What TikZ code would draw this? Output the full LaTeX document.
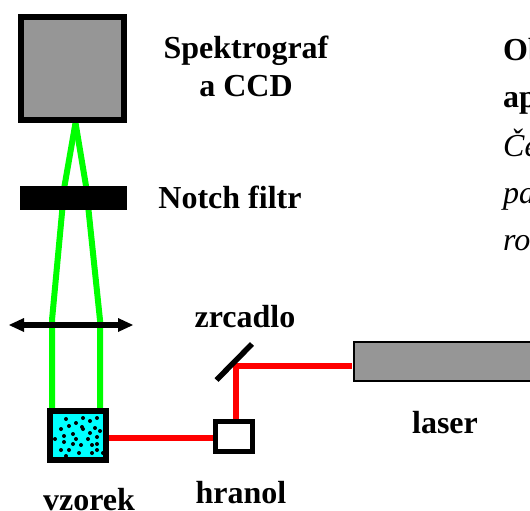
\documentclass[tikz,border=0pt]{standalone}
\usepackage{fontspec}
\setmainfont{Liberation Serif}
\begin{document}
\begin{tikzpicture}[x=1pt,y=-1pt,
  lbl/.style={font=\fontsize{32}{32}\selectfont\bfseries,anchor=base,inner sep=0pt},
  side/.style={font=\fontsize{32}{32}\selectfont\bfseries,anchor=base west,inner sep=0pt},
  sideit/.style={font=\fontsize{32}{32}\selectfont\itshape,anchor=base west,inner sep=0pt},
  green beam/.style={draw={rgb,255:red,0;green,255;blue,0},line width=6pt,line join=round},
  red beam/.style={draw=red,line width=6pt,line join=miter},
  part/.style={draw=black,line width=6pt,anchor=center,inner sep=0pt,minimum width=#1},
  dot/.style={circle,fill=black,inner sep=0pt,minimum size=4pt}]
\useasboundingbox (0,0) rectangle (530,511);
\fill[white] (0,0) rectangle (530,511);
% beams
\draw[green beam] (52,408) -- (52,320) -- (64.5,186) -- (75.5,123);
\draw[green beam] (100,408) -- (100,320) -- (86,186) -- (75.5,123);
\draw[red beam] (109,438) -- (213,438);
\draw[red beam] (236,419) -- (236,365.5) -- (352,365.5);
% spectrograph
\node[part=103pt,minimum height=103pt,fill={rgb,255:red,150;green,150;blue,150}] (spec) at (72.5,68.5) {};
% notch filter
\node[fill=black,minimum width=107.5pt,minimum height=24pt,inner sep=0pt] (notch) at (73.3,198) {};
% lens
\coordinate (lensL) at (9,325);
\coordinate (lensR) at (133,325);
\draw[line width=5.5pt] (22,325) -- (120,325);
\fill (lensL) -- (24,318) -- (24,332) -- cycle;
\fill (lensR) -- (118,318) -- (118,332) -- cycle;
% sample
\node[part=56pt,minimum height=49pt,fill={rgb,255:red,0;green,255;blue,255}] (sample) at (78,435.5) {};
\foreach \x/\y in {66/419,61/429,69/426,76/423,83/418,90/421,97/418,82/427,83/429,95/428,100/431,90/433,64/436,73/434,76/439,55/439,88/439,97/437,64/442,73/444,81/445,92/445,97/444,61/450,69/450,79/453,92/453,97/450,66/456,103/453}
  \node[dot] at (\x,\y) {};
% prism
\node[draw=black,line width=5.5pt,fill=white,minimum width=37pt,minimum height=30pt,inner sep=0pt] (prism) at (234,436.5) {};
% mirror
\coordinate (mA) at (216.5,380);
\coordinate (mB) at (252,344);
\draw[line width=5.5pt] (mA) -- (mB);
% laser
\node[draw=black,line width=2pt,fill={rgb,255:red,150;green,150;blue,150},minimum width=200pt,minimum height=39pt,inner sep=0pt,anchor=west] (laser) at (353,361) {};
% labels
\node[lbl] (t1) at (246,58.5) {Spektrograf};
\node[lbl] (t2) at (246,96.5) {a CCD};
\node[lbl] (t3) at (230,208) {Notch filtr};
\node[lbl] (t4) at (245,327.5) {zrcadlo};
\node[lbl] (t5) at (445,433.5) {laser};
\node[lbl] (t6) at (241,503) {hranol};
\node[lbl] (t7) at (89,510) {vzorek};
\node[side] (s1) at (503,60) {Ob};
\node[side] (s2) at (503,107) {ap};
\node[sideit] (s3) at (503,156) {Če};
\node[sideit] (s4) at (503,203) {pa};
\node[sideit] (s5) at (503,250) {ro};
\end{tikzpicture}
\end{document}
